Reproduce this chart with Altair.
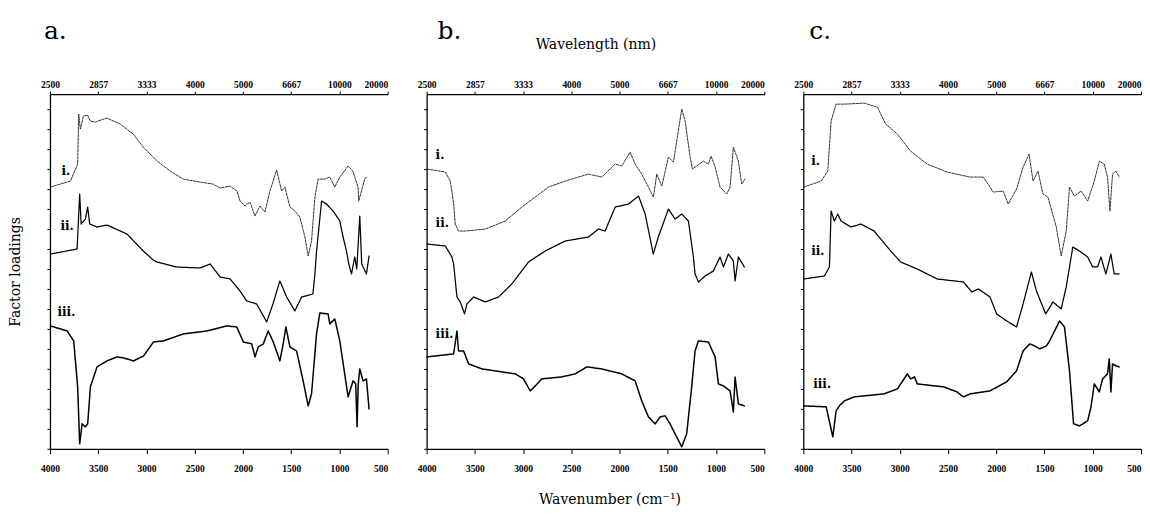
import altair as alt
import pandas as pd

# ---------------- data (wavenumber cm-1, offset loading, arbitrary units) -------------
SERIES = ["i", "ii", "iii"]

a_i_wn = [3995, 3788, 3713, 3702, 3685, 3654, 3612, 3581, 3530, 3447, 3409, 3271, 3137, 3033, 2888, 2754, 2620,
          2444, 2309, 2237, 2133, 2061, 2030, 1978, 1927, 1875, 1823, 1772, 1720, 1651, 1599, 1565, 1513, 1461,
          1410, 1358, 1324, 1289, 1254, 1221, 1151, 1100, 1048, 996, 910, 862, 807, 800, 772, 738, 720]
a_i_y = [262, 268, 285, 335, 320, 333, 334, 328, 327, 330, 331, 325, 315, 302, 288, 278, 270,
         267, 265, 261, 263, 258, 248, 243, 247, 233, 243, 237, 258, 279, 258, 262, 242, 238,
         232, 212, 193, 208, 252, 270, 270, 272, 262, 272, 283, 278, 262, 248, 258, 270, 272]

a_ii_wn = [3995, 3719, 3692, 3677, 3633, 3609, 3588, 3512, 3409, 3202, 3033, 2930, 2892, 2685, 2444, 2340, 2237,
           2133, 2030, 1961, 1858, 1754, 1689, 1617, 1547, 1462, 1392, 1275, 1254, 1237, 1185, 1134, 1065, 996,
           962, 927, 903, 875, 841, 820, 789, 769, 720, 693]
a_ii_y = [195, 200, 255, 225, 230, 242, 225, 222, 224, 215, 198, 189, 187, 182, 181, 185, 172,
          170, 158, 148, 145, 127, 145, 168, 152, 138, 152, 155, 175, 198, 248, 245, 238, 228,
          212, 198, 185, 175, 192, 180, 233, 185, 175, 193]

a_iii_wn = [3995, 3822, 3754, 3713, 3692, 3667, 3633, 3609, 3581, 3512, 3409, 3305, 3237, 3133, 3030, 2927, 2823,
            2617, 2375, 2168, 2064, 1996, 1909, 1875, 1841, 1789, 1738, 1686, 1617, 1583, 1555, 1513, 1444, 1376,
            1324, 1289, 1237, 1203, 1117, 1100, 1048, 996, 910, 859, 831, 817, 805, 789, 755, 720, 693]
a_iii_y = [123, 118, 108, 62, 5, 25, 22, 25, 62, 82, 88, 92, 91, 88, 93, 107, 108,
           115, 118, 123, 122, 107, 105, 92, 102, 105, 118, 107, 88, 105, 122, 102, 98, 68,
           43, 55, 115, 136, 135, 125, 130, 108, 52, 68, 65, 22, 65, 80, 68, 70, 40]

b_i_wn = [3997, 3806, 3755, 3720, 3703, 3669, 3599, 3392, 3185, 3013, 2874, 2737, 2564, 2322, 2185, 2046, 1978,
          1891, 1839, 1771, 1701, 1650, 1615, 1563, 1494, 1442, 1356, 1321, 1269, 1245, 1132, 1080, 1052, 1010,
          959, 890, 855, 821, 769, 735, 700]
b_i_y = [280, 277, 268, 245, 225, 218, 218, 220, 228, 242, 252, 262, 268, 275, 272, 285, 283,
         297, 285, 275, 262, 252, 275, 263, 292, 287, 340, 328, 292, 280, 288, 285, 293, 282,
         262, 255, 262, 302, 288, 265, 270]

b_ii_wn = [3997, 3806, 3738, 3720, 3686, 3651, 3607, 3583, 3513, 3392, 3254, 3117, 2944, 2771, 2564, 2322, 2219,
           2150, 2046, 1908, 1804, 1735, 1651, 1599, 1494, 1425, 1356, 1287, 1235, 1218, 1183, 1114, 1028, 959,
           924, 873, 821, 803, 769, 707]
b_ii_y = [205, 203, 192, 185, 152, 147, 135, 145, 152, 147, 152, 165, 187, 198, 208, 212, 220,
          218, 242, 245, 253, 235, 195, 212, 240, 230, 235, 228, 192, 175, 167, 173, 178, 192,
          182, 195, 188, 168, 192, 182]

b_iii_wn = [3997, 3720, 3686, 3669, 3617, 3565, 3427, 3289, 3082, 2996, 2926, 2874, 2806, 2599, 2460, 2340, 2185,
            1978, 1839, 1771, 1701, 1632, 1580, 1528, 1477, 1425, 1356, 1305, 1253, 1218, 1183, 1080, 1010, 976,
            924, 855, 821, 803, 769, 707]
b_iii_y = [92, 95, 118, 98, 98, 85, 80, 78, 75, 70, 58, 63, 70, 72, 75, 82, 80,
           75, 68, 48, 32, 25, 32, 33, 25, 15, 2, 15, 62, 98, 108, 107, 92, 65,
           63, 58, 37, 72, 45, 43]

c_i_wn = [3997, 3815, 3746, 3712, 3660, 3575, 3369, 3231, 3146, 3025, 2888, 2716, 2510, 2271, 2134, 2031, 1928,
          1876, 1790, 1722, 1660, 1619, 1568, 1516, 1465, 1378, 1327, 1275, 1241, 1190, 1121, 1053, 984, 932,
          881, 847, 822, 795, 760, 727]
c_i_y = [262, 268, 278, 328, 345, 345, 346, 342, 325, 315, 298, 285, 277, 272, 272, 257, 258,
         245, 260, 282, 295, 268, 278, 255, 252, 222, 193, 218, 262, 253, 258, 248, 268, 288,
         285, 272, 238, 275, 278, 272]

c_ii_wn = [3997, 3781, 3729, 3712, 3678, 3643, 3609, 3506, 3403, 3266, 3094, 2991, 2819, 2613, 2340, 2253, 2185,
           2065, 1996, 1893, 1790, 1722, 1636, 1584, 1488, 1413, 1327, 1275, 1224, 1207, 1138, 1053, 1001, 950,
           915, 864, 812, 778, 727]
c_ii_y = [170, 173, 182, 238, 228, 235, 228, 222, 225, 218, 198, 187, 180, 170, 167, 157, 160,
          152, 135, 128, 122, 145, 177, 158, 135, 147, 140, 162, 192, 202, 198, 192, 182, 182,
          192, 175, 195, 175, 175]

c_iii_wn = [3997, 3763, 3694, 3660, 3626, 3575, 3472, 3163, 3025, 2922, 2888, 2847, 2819, 2545, 2408, 2340, 2271,
            2065, 1893, 1790, 1722, 1653, 1601, 1550, 1481, 1447, 1344, 1293, 1241, 1199, 1138, 1053, 1018, 984,
            932, 898, 847, 829, 812, 795, 760, 727]
c_iii_y = [43, 42, 12, 38, 43, 48, 52, 55, 60, 75, 70, 72, 65, 62, 57, 52, 55,
           58, 67, 78, 98, 105, 103, 100, 103, 108, 128, 122, 78, 25, 23, 28, 42, 65,
           57, 70, 75, 90, 57, 85, 83, 82]

PANELS = {
    "a": [(a_i_wn, a_i_y), (a_ii_wn, a_ii_y), (a_iii_wn, a_iii_y)],
    "b": [(b_i_wn, b_i_y), (b_ii_wn, b_ii_y), (b_iii_wn, b_iii_y)],
    "c": [(c_i_wn, c_i_y), (c_ii_wn, c_ii_y), (c_iii_wn, c_iii_y)],
}

# series label anchors (wavenumber, loading)
LABEL_WN = {"a": [3881, 3891, 3922], "b": [3907, 3907, 3907], "c": [3918, 3918, 3897]}
LABEL_Y = {"a": [278, 223, 137], "b": [294, 226, 115], "c": [288, 198, 65]}

WN_TICKS = [4000, 3500, 3000, 2500, 2000, 1500, 1000, 500]
PANEL_LETTERS = {"a": "a.", "b": "b.", "c": "c."}

SERIF = "DejaVu Serif"
TICKFONT = "Liberation Serif"
W, H = 338, 355


def make_panel(key, dx, y_title, show_x_titles):
    rows = []
    for s, (wn, yv) in zip(SERIES, PANELS[key]):
        for k, (w, v) in enumerate(zip(wn, yv)):
            rows.append({"wn": w, "y": v, "series": s, "idx": k})
    df = pd.DataFrame(rows)
    lab = pd.DataFrame({"wn": LABEL_WN[key], "y": LABEL_Y[key], "label": [s + "." for s in SERIES]})

    xscale = alt.Scale(domain=[4000, 500], nice=False, zero=False)
    yscale = alt.Scale(domain=[0, 355], nice=False, zero=False)

    common = dict(grid=False, domainColor="black", tickColor="black", labelColor="black",
                  domainWidth=1.3, tickWidth=1)
    last_right = {"condition": {"test": "datum.value == 500", "value": "right"}, "value": "center"}

    bottom_axis = alt.Axis(orient="bottom", values=WN_TICKS, format="d", labelFlush=False, labelOverlap=False,
                           labelAlign=last_right,
                           labelFont=TICKFONT, labelFontSize=9.5, labelFontWeight="bold",
                           tickSize=5, labelPadding=10,
                           title="Wavenumber (cm⁻¹)", titleOpacity=1 if show_x_titles else 0,
                           titleFont=SERIF, titleFontSize=14, titleFontWeight="normal", titleColor="black",
                           titlePadding=19, titleX=W / 2 + 14, **common)
    top_axis = alt.Axis(orient="top", values=WN_TICKS, labelExpr="round(10000000 / datum.value)",
                        labelFlush=False, labelOverlap=False, labelAlign=last_right,
                        labelFont=TICKFONT, labelFontSize=9.5, labelFontWeight="bold",
                        tickSize=3, labelPadding=2,
                        title="Wavelength (nm)", titleOpacity=1 if show_x_titles else 0,
                        titleFont=SERIF, titleFontSize=14, titleFontWeight="normal", titleColor="black",
                        titlePadding=28, **common)
    ykw = dict(labels=False, tickCount=16, tickSize=3, **common)
    if y_title:
        yaxis = alt.Axis(title="Factor loadings", titleFont=SERIF, titleFontSize=14, titleFontWeight="normal",
                         titleColor="black", titlePadding=24, **ykw)
    else:
        yaxis = alt.Axis(title=None, **ykw)

    lines = alt.Chart(df).mark_line(strokeJoin="round", strokeCap="round").encode(
        x=alt.X("wn:Q", scale=xscale, axis=bottom_axis),
        y=alt.Y("y:Q", scale=yscale, axis=yaxis),
        order="idx:Q",
        color=alt.Color("series:N", scale=alt.Scale(domain=SERIES, range=["#333333", "#000000", "#000000"]),
                        legend=None),
        strokeDash=alt.StrokeDash("series:N", scale=alt.Scale(domain=SERIES, range=[[2.5, 1.2], [1, 0], [1, 0]]),
                                  legend=None),
        strokeWidth=alt.StrokeWidth("series:N", scale=alt.Scale(domain=SERIES, range=[1.0, 1.5, 1.4]),
                                    legend=None),
    )
    labels = alt.Chart(lab).mark_text(align="left", baseline="middle", font=SERIF, fontSize=12,
                                      fontWeight="bold", color="black").encode(
        x=alt.X("wn:Q", scale=xscale, axis=top_axis),
        y=alt.Y("y:Q", scale=yscale, axis=yaxis),
        text="label:N",
    )
    return alt.layer(lines, labels).resolve_scale(x="independent").properties(
        width=W, height=H,
        title=alt.TitleParams(PANEL_LETTERS[key], anchor="start", frame="group", dx=dx, offset=-27,
                              baseline="alphabetic", font=SERIF, fontSize=25, fontWeight="normal",
                              color="black"),
    )


pa = make_panel("a", -6, True, False)
pb = make_panel("b", 11, False, True)
pc = make_panel("c", 6, False, False)

chart = alt.hconcat(pa, pb, pc, spacing=39, bounds="flush").properties(
    padding={"left": 0, "top": 11, "right": 0, "bottom": 0},
    background="white",
).configure_view(strokeOpacity=0)

chart.save("out.html", embed_options={"renderer": "svg", "actions": False})
